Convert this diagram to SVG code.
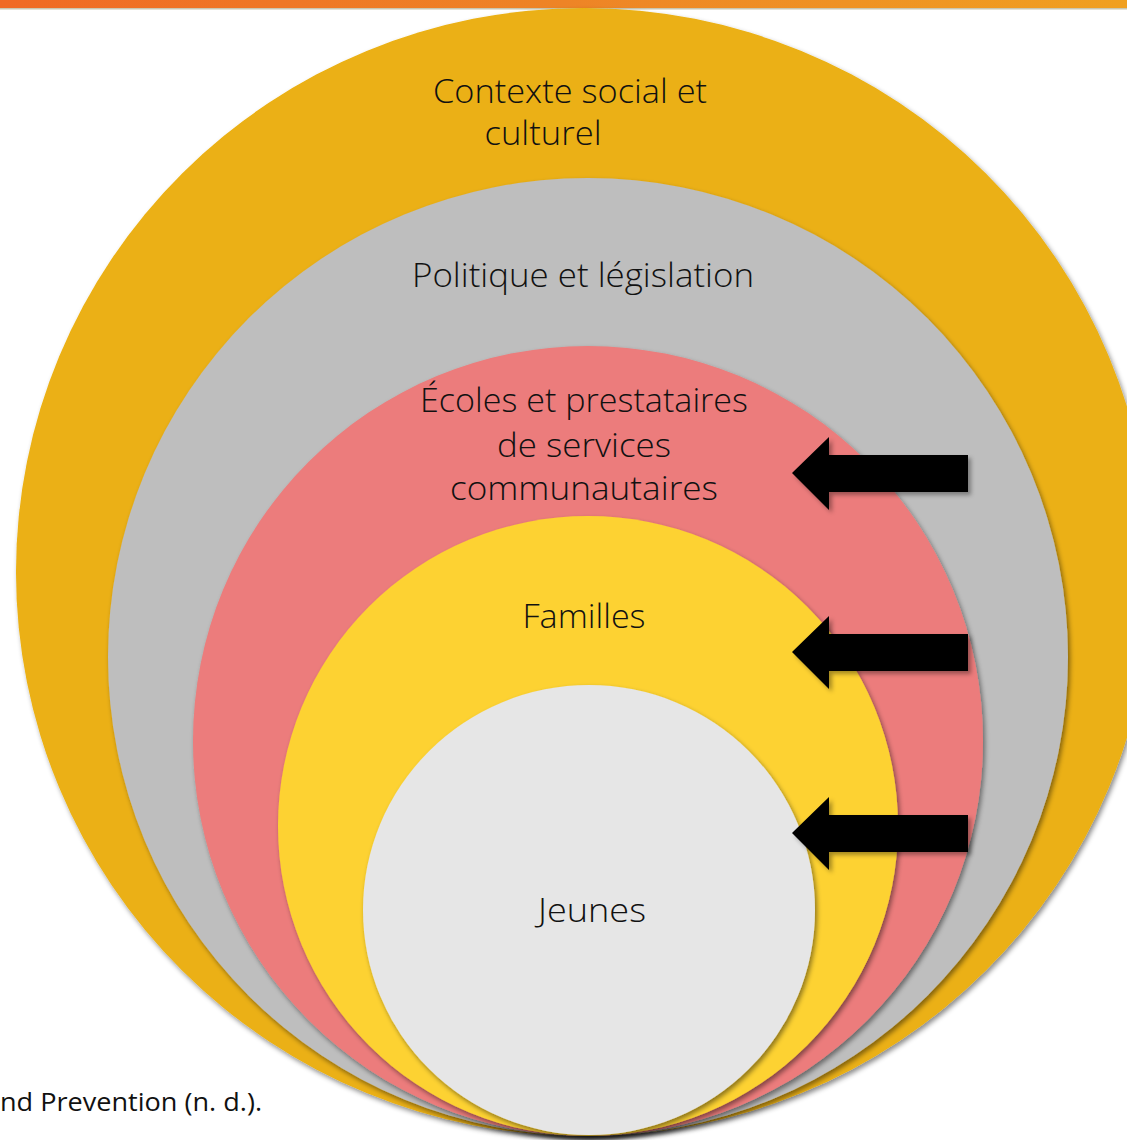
<svg xmlns="http://www.w3.org/2000/svg" width="1127" height="1140" viewBox="0 0 1127 1140">
<defs>
<linearGradient id="bar" x1="0" y1="0" x2="1" y2="0">
<stop offset="0" stop-color="#f06a24"/>
<stop offset="0.5" stop-color="#ee8426"/>
<stop offset="1" stop-color="#f0a020"/>
</linearGradient>
<filter id="sh" x="-10%" y="-10%" width="120%" height="120%">
<feDropShadow dx="2" dy="3" stdDeviation="2.5" flood-color="#000" flood-opacity="0.45"/>
</filter>
<filter id="ash" x="-10%" y="-20%" width="120%" height="140%">
<feDropShadow dx="3" dy="3" stdDeviation="2" flood-color="#000" flood-opacity="0.35"/>
</filter>
<polygon id="arrow" points="0,0 37,-36 37,-18 176,-18 176,19 37,19 37,37"/>
</defs>
<style>
.lbl{font-family:"Open Sans","Liberation Sans",sans-serif;font-weight:300;font-size:33px;fill:#111;text-anchor:middle}
.src{font-family:"Open Sans","Liberation Sans",sans-serif;font-size:25px;fill:#111}
</style>
<rect x="0" y="0" width="1127" height="8" fill="url(#bar)"/>
<rect x="0" y="8" width="1127" height="1.5" fill="#c9c6b0"/>
<g id="contexte" filter="url(#sh)">
<ellipse cx="584" cy="572" rx="568" ry="564" fill="#ebb012"/>
</g>
<g id="politique" filter="url(#sh)">
<ellipse cx="588" cy="657" rx="480" ry="479" fill="#bebebe"/>
</g>
<g id="ecoles" filter="url(#sh)">
<ellipse cx="588" cy="741" rx="395" ry="395" fill="#ec7c7b"/>
</g>
<g id="familles" filter="url(#sh)">
<ellipse cx="588" cy="826" rx="310" ry="310" fill="#fdd232"/>
</g>
<g id="jeunes" filter="url(#sh)">
<ellipse cx="589" cy="910" rx="226" ry="225" fill="#e6e6e6"/>
</g>
<g id="labels">
<text class="lbl" x="570" y="103" textLength="274" lengthAdjust="spacingAndGlyphs">Contexte social et</text>
<text class="lbl" x="543" y="145" textLength="117" lengthAdjust="spacingAndGlyphs">culturel</text>
<text class="lbl" x="583" y="287" textLength="342" lengthAdjust="spacingAndGlyphs">Politique et législation</text>
<text class="lbl" x="584" y="412" textLength="328" lengthAdjust="spacingAndGlyphs">Écoles et prestataires</text>
<text class="lbl" x="584" y="457" textLength="174" lengthAdjust="spacingAndGlyphs">de services</text>
<text class="lbl" x="584" y="500" textLength="268" lengthAdjust="spacingAndGlyphs">communautaires</text>
<text class="lbl" x="584" y="628" textLength="123" lengthAdjust="spacingAndGlyphs">Familles</text>
<text class="lbl" x="592" y="922" textLength="108" lengthAdjust="spacingAndGlyphs">Jeunes</text>
</g>
<g id="connectors" fill="#000" filter="url(#ash)">
<use href="#arrow" x="792" y="473"/>
<use href="#arrow" x="792" y="652"/>
<use href="#arrow" x="792" y="833"/>
</g>
<text class="src" x="0" y="1111" textLength="262" lengthAdjust="spacingAndGlyphs">nd Prevention (n. d.).</text>
</svg>
